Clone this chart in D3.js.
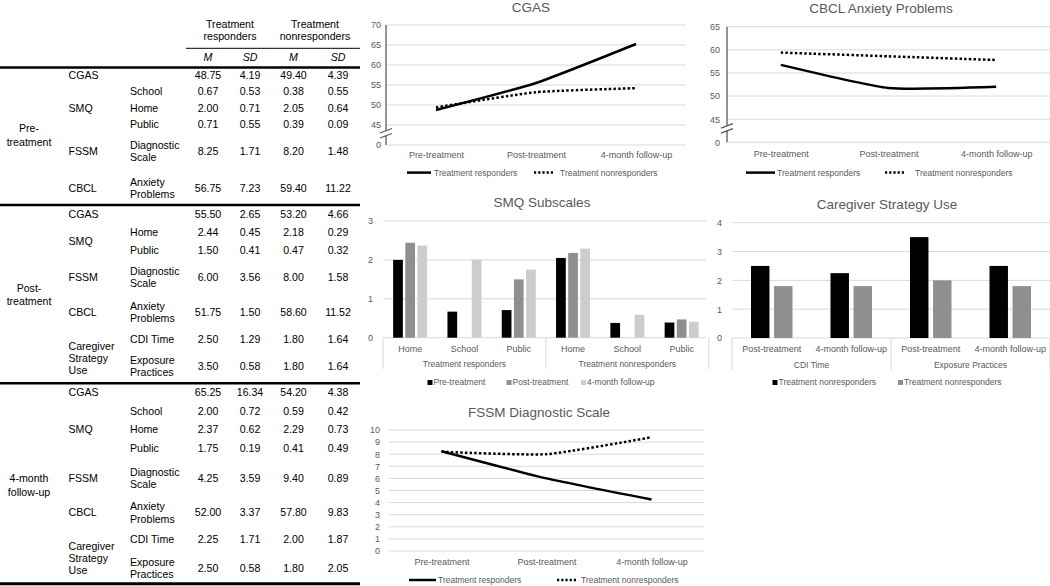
<!DOCTYPE html>
<html>
<head>
<meta charset="utf-8">
<script src="https://cdn.jsdelivr.net/npm/d3@7"></script>
<style>
body { margin: 0; background: #fff; }
svg { display: block; font-family: "Liberation Sans", Arial, sans-serif; }
</style>
</head>
<body>
<svg width="1050" height="586"></svg>
<script>
// ---------- data ----------
const timepoints = ["Pre-treatment", "Post-treatment", "4-month follow-up"];
const groupNames = ["Treatment responders", "Treatment nonresponders"];

// CGAS (axis broken between 0 and 45, so 40 is shown as "0")
const cgasResp = [48.75, 55.50, 65.25];
const cgasNon = [49.40, 53.20, 54.20];
const cgasTicks = [40, 45, 50, 55, 60, 65, 70];
const cgasTickLabels = ["0", "45", "50", "55", "60", "65", "70"];

// CBCL Anxiety Problems
const cbclResp = [56.75, 51.75, 52.00];
const cbclNon = [59.40, 58.60, 57.80];
const cbclTicks = [40, 45, 50, 55, 60, 65];
const cbclTickLabels = ["0", "45", "50", "55", "60", "65"];

// FSSM Diagnostic Scale
const fssmResp = [8.25, 6.00, 4.25];
const fssmNon = [8.20, 8.00, 9.40];
const fssmTicks = [0, 1, 2, 3, 4, 5, 6, 7, 8, 9, 10];

// SMQ subscales: [subscale][timepoint], null = not measured
const smqSubscales = ["Home", "School", "Public"];
const smqResponders = [[2.00, 2.44, 2.37], [0.67, null, 2.00], [0.71, 1.50, 1.75]];
const smqNonresponders = [[2.05, 2.18, 2.29], [0.38, null, 0.59], [0.39, 0.47, 0.41]];
const smqTicks = [0, 1, 2, 3];

// Caregiver strategy use: order CDI post, CDI 4-mo, Exposure post, Exposure 4-mo
const csuScales = ["CDI Time", "Exposure Practices"];
const csuTimes = ["Post-treatment", "4-month follow-up"];
const csuLegend = ["Treatment nonresponders", "Treatment nonresponders"]; // as printed
const csuResponders = [2.50, 2.25, 3.50, 2.50];
const csuNonresponders = [1.80, 1.80, 2.00, 1.80];
const csuTicks = [0, 1, 2, 3, 4];

// table: measure, subscale, M, SD, M, SD
const tableRows = [
  ["CGAS", "", "48.75", "4.19", "49.40", "4.39"],
  ["", "School", "0.67", "0.53", "0.38", "0.55"],
  ["SMQ", "Home", "2.00", "0.71", "2.05", "0.64"],
  ["", "Public", "0.71", "0.55", "0.39", "0.09"],
  ["FSSM", "Diagnostic|Scale", "8.25", "1.71", "8.20", "1.48"],
  ["CBCL", "Anxiety|Problems", "56.75", "7.23", "59.40", "11.22"],
  ["CGAS", "", "55.50", "2.65", "53.20", "4.66"],
  ["", "Home", "2.44", "0.45", "2.18", "0.29"],
  ["", "Public", "1.50", "0.41", "0.47", "0.32"],
  ["FSSM", "Diagnostic|Scale", "6.00", "3.56", "8.00", "1.58"],
  ["CBCL", "Anxiety|Problems", "51.75", "1.50", "58.60", "11.52"],
  ["", "CDI Time", "2.50", "1.29", "1.80", "1.64"],
  ["", "Exposure|Practices", "3.50", "0.58", "1.80", "1.64"],
  ["CGAS", "", "65.25", "16.34", "54.20", "4.38"],
  ["", "School", "2.00", "0.72", "0.59", "0.42"],
  ["SMQ", "Home", "2.37", "0.62", "2.29", "0.73"],
  ["", "Public", "1.75", "0.19", "0.41", "0.49"],
  ["FSSM", "Diagnostic|Scale", "4.25", "3.59", "9.40", "0.89"],
  ["CBCL", "Anxiety|Problems", "52.00", "3.37", "57.80", "9.83"],
  ["", "CDI Time", "2.25", "1.71", "2.00", "1.87"],
  ["", "Exposure|Practices", "2.50", "0.58", "1.80", "2.05"]
];
const sectionLabels = ["Pre-|treatment", "Post-|treatment", "4-month|follow-up"];

// ---------- layout ----------
const svg = d3.select("svg");
const grey = "#595959", grid = "#d9d9d9";

function multiText(g, x, y, str, anchor, size, fill, gap) {
  const lines = str.split("|");
  const t = g.append("text").attr("x", x).attr("text-anchor", anchor)
    .attr("font-size", size).attr("fill", fill);
  lines.forEach((s, i) => {
    t.append("tspan").attr("x", x)
      .attr("y", y + (i - (lines.length - 1) / 2) * gap)
      .attr("dy", "0.35em").text(s);
  });
  return t;
}

// ---------- table ----------
function drawTable() {
  const g = svg.append("g");
  const cols = [208, 250, 293.5, 338];
  const rowY = [75.5, 91.5, 108, 124.5, 151, 188, 214, 232.3, 250, 277, 312, 339.3, 366,
                392.7, 411, 429.5, 448.3, 478, 512.7, 539.3, 568.5];
  const fs = 10.6;

  multiText(g, 230, 30.5, "Treatment|responders", "middle", fs, "#000", 11.5);
  multiText(g, 315, 30.5, "Treatment|nonresponders", "middle", fs, "#000", 11.5);
  ["M", "SD", "M", "SD"].forEach((s, i) => {
    g.append("text").attr("x", cols[i]).attr("y", 57.3).attr("dy", "0.35em")
      .attr("text-anchor", "middle").attr("font-size", fs).attr("font-style", "italic").text(s);
  });

  const rules = [[186, 48.3, 1], [0, 67.5, 2.5], [0, 205, 2.5], [0, 383.3, 2.5], [0, 583.8, 3]];
  rules.forEach(r => g.append("line").attr("x1", r[0]).attr("x2", 360)
    .attr("y1", r[1]).attr("y2", r[1]).attr("stroke", "#000").attr("stroke-width", r[2]));

  tableRows.forEach((r, i) => {
    const y = rowY[i];
    if (r[0]) multiText(g, 68.5, y, r[0], "start", fs, "#000", 12);
    if (r[1]) multiText(g, 130, y, r[1], "start", fs, "#000", 12.3);
    r.slice(2).forEach((v, j) => multiText(g, cols[j], y, v, "middle", fs, "#000", 12));
  });

  // labels that span several rows
  multiText(g, 68.5, 241.3, "SMQ", "start", fs, "#000", 12);
  multiText(g, 68.5, 358, "Caregiver|Strategy|Use", "start", fs, "#000", 12.2);
  multiText(g, 68.5, 558, "Caregiver|Strategy|Use", "start", fs, "#000", 12.2);

  const secY = [135.3, 295, 485.4];
  sectionLabels.forEach((s, i) => multiText(g, 29, secY[i], s, "middle", fs, "#000", 13.5));
}

// ---------- line charts ----------
function lineChart(o) {
  const g = svg.append("g");
  const x = d3.scalePoint().domain(timepoints).range([o.x0, o.x1]).padding(0.5);
  const y = d3.scaleLinear().domain(o.domain).range([o.yBottom, o.yTop]);

  g.append("g").selectAll("line").data(o.ticks).join("line")
    .attr("x1", o.x0).attr("x2", o.x1)
    .attr("y1", d => y(d)).attr("y2", d => y(d))
    .attr("stroke", grid).attr("stroke-width", 1);

  const ya = g.append("g").attr("transform", `translate(${o.labelX},0)`)
    .call(d3.axisLeft(y).tickValues(o.ticks)
      .tickFormat((d, i) => o.tickLabels ? o.tickLabels[i] : d)
      .tickSize(0).tickPadding(0));
  ya.select(".domain").remove();
  ya.selectAll("text").attr("fill", grey).style("font-size", "9px")
    .style("font-family", "Liberation Sans, Arial, sans-serif");

  const xa = g.append("g").attr("transform", `translate(0,${o.xLabelY})`)
    .call(d3.axisBottom(x).tickSize(0).tickPadding(0));
  xa.select(".domain").remove();
  xa.selectAll("text").attr("fill", grey).attr("dy", "0.35em").style("font-size", "9px")
    .style("font-family", "Liberation Sans, Arial, sans-serif");

  if (o.brk) {
    const b = y(o.ticks[1]) + (y(o.ticks[0]) - y(o.ticks[1])) * 0.3;
    const ax = g.append("g").attr("stroke", grey).attr("stroke-width", 1.3).attr("fill", "none");
    ax.append("line").attr("x1", o.x0).attr("x2", o.x0).attr("y1", y(o.domain[1])).attr("y2", b - 0.5);
    ax.append("line").attr("x1", o.x0).attr("x2", o.x0).attr("y1", b + 4.5).attr("y2", y(o.domain[0]));
    ax.append("line").attr("x1", o.x0 - 6).attr("x2", o.x0 + 6).attr("y1", b + 2).attr("y2", b - 2.5);
    ax.append("line").attr("x1", o.x0 - 6).attr("x2", o.x0 + 6).attr("y1", b + 7).attr("y2", b + 2.5);
  }

  // mild smoothing, like the spreadsheet's smoothed lines
  const line = d3.line()
    .x((d, i) => x(timepoints[i]))
    .y(d => y(d))
    .curve(d3.curveCardinal.tension(0.5));

  g.append("path").datum(o.non).attr("d", line).attr("fill", "none")
    .attr("stroke", "#000").attr("stroke-width", 2.5).attr("stroke-dasharray", "2.5,2.2");
  g.append("path").datum(o.resp).attr("d", line).attr("fill", "none")
    .attr("stroke", "#000").attr("stroke-width", 2.5);

  // legend
  const L = o.legend;
  g.append("line").attr("x1", L.s[0]).attr("x2", L.s[1]).attr("y1", L.y).attr("y2", L.y)
    .attr("stroke", "#000").attr("stroke-width", 2.5);
  g.append("line").attr("x1", L.d[0]).attr("x2", L.d[1]).attr("y1", L.y).attr("y2", L.y)
    .attr("stroke", "#000").attr("stroke-width", 2.5).attr("stroke-dasharray", "2.2,2");
  g.append("text").attr("x", L.s[2]).attr("y", L.y).attr("dy", "0.35em")
    .attr("font-size", 8.5).attr("fill", grey).text(groupNames[0]);
  g.append("text").attr("x", L.d[2]).attr("y", L.y).attr("dy", "0.35em")
    .attr("font-size", 8.5).attr("fill", grey).text(groupNames[1]);

  g.append("text").attr("x", o.title[1]).attr("y", o.title[2]).attr("text-anchor", "middle")
    .attr("font-size", 13.5).attr("fill", grey).text(o.title[0]);
}

// ---------- bar charts ----------
function barChart(o) {
  const g = svg.append("g");
  const cats = [];
  o.groups.forEach((gr, gi) => o.cats.forEach((c, ci) => cats.push({ gi, ci, key: gi + "-" + ci, label: c })));
  const x = d3.scaleBand().domain(cats.map(d => d.key)).range([o.x0, o.x1]);
  const inner = d3.scaleBand().domain(d3.range(o.series.length))
    .range([-o.span / 2, o.span / 2]).paddingInner(0.2);
  const y = d3.scaleLinear().domain(o.domain).range([o.yBottom, o.yTop]);

  g.append("g").selectAll("line").data(o.ticks).join("line")
    .attr("x1", o.x0).attr("x2", o.gridEnd)
    .attr("y1", d => y(d)).attr("y2", d => y(d))
    .attr("stroke", grid).attr("stroke-width", 1);

  const ya = g.append("g").attr("transform", `translate(${o.labelX},0)`)
    .call(d3.axisLeft(y).tickValues(o.ticks).tickFormat(d3.format("d")).tickSize(0).tickPadding(0));
  ya.select(".domain").remove();
  ya.selectAll("text").attr("fill", grey).style("font-size", "9px")
    .style("font-family", "Liberation Sans, Arial, sans-serif");

  const bars = [];
  cats.forEach(c => o.series.forEach((s, si) => {
    const v = o.value(c.gi, c.ci, si);
    if (v != null) bars.push({ c, si, v });
  }));
  g.append("g").selectAll("rect").data(bars).join("rect")
    .attr("x", d => x(d.c.key) + x.bandwidth() / 2 + inner(d.si))
    .attr("width", inner.bandwidth())
    .attr("y", d => y(d.v))
    .attr("height", d => y(0) - y(d.v))
    .attr("fill", d => o.colors[d.si]);

  // category + group labels
  g.append("g").selectAll("text").data(cats).join("text")
    .attr("x", d => x(d.key) + x.bandwidth() / 2).attr("y", o.catY).attr("dy", "0.35em")
    .attr("text-anchor", "middle").attr("font-size", 9).attr("fill", grey).text(d => d.label);
  const gw = x.step() * o.cats.length;
  g.append("g").selectAll("text").data(o.groups).join("text")
    .attr("x", (d, i) => o.x0 + gw * i + gw / 2).attr("y", o.grpY).attr("dy", "0.35em")
    .attr("text-anchor", "middle").attr("font-size", 8.5).attr("fill", grey).text(d => d);
  g.append("g").selectAll("line").data(d3.range(o.groups.length + 1)).join("line")
    .attr("x1", i => o.x0 + gw * i).attr("x2", i => o.x0 + gw * i)
    .attr("y1", y(0)).attr("y2", o.divBottom)
    .attr("stroke", grid).attr("stroke-width", 1);

  // legend
  o.legendNames.forEach((s, i) => {
    g.append("rect").attr("x", o.legendX[i]).attr("y", o.legendY - 2.5)
      .attr("width", 5).attr("height", 5).attr("fill", o.colors[i]);
    g.append("text").attr("x", o.legendX[i] + 6).attr("y", o.legendY).attr("dy", "0.35em")
      .attr("font-size", 8.5).attr("fill", grey).text(s);
  });

  g.append("text").attr("x", o.title[1]).attr("y", o.title[2]).attr("text-anchor", "middle")
    .attr("font-size", 13.5).attr("fill", grey).text(o.title[0]);
}

drawTable();

lineChart({
  title: ["CGAS", 531, 12], x0: 386, x1: 686, yTop: 25, yBottom: 145,
  domain: [40, 70], ticks: cgasTicks, tickLabels: cgasTickLabels, labelX: 381,
  xLabelY: 155, brk: true, resp: cgasResp, non: cgasNon,
  legend: { y: 172.6, s: [407, 431, 434], d: [534, 555, 560] }
});

lineChart({
  title: ["CBCL Anxiety Problems", 881, 13], x0: 727, x1: 1050, yTop: 26.7, yBottom: 142.3,
  domain: [40, 65], ticks: cbclTicks, tickLabels: cbclTickLabels, labelX: 720,
  xLabelY: 154, brk: true, resp: cbclResp, non: cbclNon,
  legend: { y: 172.6, s: [746, 775, 777], d: [885, 905, 915] }
});

lineChart({
  title: ["FSSM Diagnostic Scale", 539, 417], x0: 389, x1: 704, yTop: 430, yBottom: 551,
  domain: [0, 10], ticks: fssmTicks, labelX: 380,
  xLabelY: 562, brk: false, resp: fssmResp, non: fssmNon,
  legend: { y: 580, s: [409, 436, 438], d: [557, 577, 581] }
});

barChart({
  title: ["SMQ Subscales", 542, 206.5], groups: groupNames, cats: smqSubscales,
  series: timepoints, legendNames: timepoints, colors: ["#000000", "#8f8f8f", "#cdcdcd"],
  value: (gi, ci, si) => (gi === 0 ? smqResponders : smqNonresponders)[ci][si],
  x0: 383, x1: 708.8, gridEnd: 706, span: 34, yTop: 221, yBottom: 337.7, domain: [0, 3],
  ticks: smqTicks, labelX: 373, catY: 348.5, grpY: 364.5, divBottom: 369,
  legendY: 382.5, legendX: [427.5, 506.5, 581]
});

barChart({
  title: ["Caregiver Strategy Use", 887, 208.5], groups: csuScales, cats: csuTimes,
  series: groupNames, legendNames: csuLegend, colors: ["#000000", "#8f8f8f"],
  value: (gi, ci, si) => (si === 0 ? csuResponders : csuNonresponders)[gi * 2 + ci],
  x0: 732, x1: 1050, gridEnd: 1050, span: 41.5, yTop: 222.7, yBottom: 338, domain: [0, 4],
  ticks: csuTicks, labelX: 722, catY: 349, grpY: 365, divBottom: 370,
  legendY: 382.5, legendX: [772.5, 898]
});
</script>
</body>
</html>
